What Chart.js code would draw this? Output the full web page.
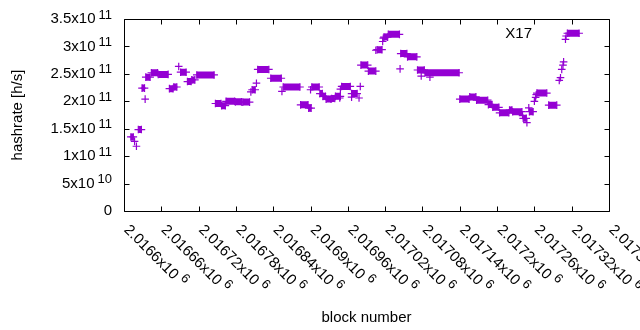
<!DOCTYPE html>
<html>
<head>
<meta charset="utf-8">
<title>X17 hashrate</title>
<script src="https://cdn.jsdelivr.net/npm/chart.js"></script>
<style>
    body { margin: 0; background: #fff; }
</style>
</head>
<body>
<canvas id="hashChart" width="640" height="330"></canvas>
<script>
// runs of consecutive blocks sharing one hashrate estimate: first block, last block, h/s
const runStart = [
    2016611, 2016617, 2016620, 2016623, 2016629, 2016634, 2016635, 2016644, 2016655, 2016673,
    2016680, 2016688, 2016691, 2016702, 2016709, 2016717, 2016747, 2016757, 2016764, 2016779,
    2016791, 2016804, 2016806, 2016813, 2016815, 2016836, 2016854, 2016856, 2016884, 2016897,
    2016900, 2016902, 2016915, 2016920, 2016925, 2016934, 2016940, 2016947, 2016948, 2016950,
    2016966, 2016966, 2016978, 2016980, 2016981, 2016993, 2017005, 2017007, 2017016, 2017017,
    2017018, 2017025, 2017044, 2017045, 2017056, 2017072, 2017078, 2017092, 2017084, 2017140,
    2017156, 2017167, 2017186, 2017193, 2017204, 2017220, 2017225, 2017241, 2017242, 2017248,
    2017251, 2017252, 2017260, 2017262, 2017263, 2017264, 2017283, 2017300, 2017302, 2017304,
    2017306, 2017307, 2017310, 2017311, 2017313
];
const runEnd = [
    2016615, 2016617, 2016620, 2016628, 2016633, 2016634, 2016642, 2016654, 2016671, 2016679,
    2016685, 2016688, 2016700, 2016708, 2016714, 2016745, 2016756, 2016763, 2016778, 2016789,
    2016802, 2016804, 2016811, 2016813, 2016833, 2016853, 2016854, 2016883, 2016896, 2016901,
    2016900, 2016914, 2016919, 2016924, 2016933, 2016939, 2016948, 2016947, 2016948, 2016964,
    2016975, 2016966, 2016978, 2016980, 2016992, 2017005, 2017005, 2017015, 2017016, 2017017,
    2017024, 2017043, 2017044, 2017055, 2017071, 2017083, 2017078, 2017092, 2017139, 2017155,
    2017166, 2017185, 2017192, 2017203, 2017219, 2017224, 2017240, 2017241, 2017247, 2017248,
    2017251, 2017258, 2017260, 2017262, 2017263, 2017280, 2017296, 2017300, 2017302, 2017304,
    2017306, 2017307, 2017310, 2017311, 2017332
];
const runValue = [
    1.35e11, 1.27e11, 1.18e11, 1.485e11, 2.24e11, 2.04e11, 2.44e11, 2.52e11, 2.49e11, 2.23e11,
    2.26e11, 2.635e11, 2.53e11, 2.36e11, 2.39e11, 2.48e11, 1.96e11, 1.92e11, 2.00e11, 1.99e11,
    1.985e11, 2.17e11, 2.21e11, 2.33e11, 2.58e11, 2.42e11, 2.18e11, 2.26e11, 1.935e11, 1.875e11,
    2.21e11, 2.26e11, 2.14e11, 2.09e11, 2.04e11, 2.05e11, 2.09e11, 2.06e11, 2.22e11, 2.27e11,
    2.14e11, 2.075e11, 2.06e11, 2.27e11, 2.66e11, 2.55e11, 2.93e11, 2.94e11, 3.09e11, 3.15e11,
    3.17e11, 3.22e11, 2.59e11, 2.87e11, 2.81e11, 2.57e11, 2.46e11, 2.44e11, 2.52e11, 2.04e11,
    2.08e11, 2.02e11, 1.94e11, 1.89e11, 1.79e11, 1.84e11, 1.81e11, 1.74e11, 1.69e11, 1.61e11,
    1.88e11, 1.81e11, 2.00e11, 2.07e11, 2.12e11, 2.15e11, 1.93e11, 2.38e11, 2.43e11, 2.58e11,
    2.66e11, 2.72e11, 3.13e11, 3.19e11, 3.24e11
];

const xTicks = [2016600, 2016660, 2016720, 2016780, 2016840, 2016900, 2016960,
    2017020, 2017080, 2017140, 2017200, 2017260, 2017320, 2017380];
const xTickLabels = ["2.0166x10", "2.01666x10", "2.01672x10", "2.01678x10", "2.01684x10",
    "2.0169x10", "2.01696x10", "2.01702x10", "2.01708x10", "2.01714x10", "2.0172x10",
    "2.01726x10", "2.01732x10", "2.01738x10"];
const xTickPower = "6";

const yTicks = [0, 5e10, 1e11, 1.5e11, 2e11, 2.5e11, 3e11, 3.5e11];
const yTickLabels = ["0", "5x10", "1x10", "1.5x10", "2x10", "2.5x10", "3x10", "3.5x10"];
const yTickPowers = ["", "10", "11", "11", "11", "11", "11", "11"];

const purple = "#9400d3";
const mainFont = '15px "Liberation Sans", Arial, sans-serif';
const supFont = '13px "Liberation Sans", Arial, sans-serif';

// each run becomes a short thick segment, with a gap before the next one
const points = [];
for (let i = 0; i < runStart.length; i++) {
    points.push({ x: runStart[i], y: runValue[i] });
    if (runEnd[i] !== runStart[i]) {
        points.push({ x: runEnd[i], y: runValue[i] });
    }
    points.push({ x: runEnd[i], y: null });
}

// gnuplot-like frame, mirrored inward ticks and superscript tick labels
const gnuplotFrame = {
    id: "gnuplotFrame",
    afterDraw(chart) {
        const ctx = chart.ctx;
        const a = chart.chartArea;
        const xs = chart.scales.x;
        const ys = chart.scales.y;
        const L = Math.round(a.left) + 0.5;
        const R = Math.round(a.right) + 0.5;
        const T = Math.round(a.top) + 0.5;
        const B = Math.round(a.bottom) + 0.5;

        ctx.save();
        ctx.strokeStyle = "#000";
        ctx.lineWidth = 1;
        ctx.beginPath();
        ctx.rect(L, T, R - L, B - T);
        xTicks.forEach(function (v) {
            const p = Math.round(xs.getPixelForValue(v)) + 0.5;
            ctx.moveTo(p, B); ctx.lineTo(p, B - 5);
            ctx.moveTo(p, T); ctx.lineTo(p, T + 5);
        });
        yTicks.forEach(function (v) {
            const p = Math.round(ys.getPixelForValue(v)) + 0.5;
            ctx.moveTo(L, p); ctx.lineTo(L + 5, p);
            ctx.moveTo(R, p); ctx.lineTo(R - 5, p);
        });
        ctx.stroke();

        ctx.fillStyle = "#000";

        // y tick labels
        ctx.textAlign = "right";
        ctx.textBaseline = "middle";
        yTicks.forEach(function (v, i) {
            const p = ys.getPixelForValue(v);
            let right = 112;
            if (yTickPowers[i]) {
                ctx.font = supFont;
                ctx.fillText(yTickPowers[i], right, p - 4);
                right -= ctx.measureText(yTickPowers[i]).width + 3;
            }
            ctx.font = mainFont;
            ctx.fillText(yTickLabels[i], right, p);
        });

        // x tick labels, turned 45 degrees clockwise
        ctx.textAlign = "left";
        ctx.textBaseline = "alphabetic";
        xTicks.forEach(function (v, i) {
            const p = xs.getPixelForValue(v);
            ctx.save();
            ctx.translate(p - 0.7, 230.5);
            ctx.rotate(Math.PI / 4);
            ctx.font = mainFont;
            ctx.fillText(xTickLabels[i], 0, 0);
            const w = ctx.measureText(xTickLabels[i]).width;
            ctx.font = supFont;
            ctx.fillText(xTickPower, w + 4, -6);
            ctx.restore();
        });

        // axis titles and key
        ctx.font = mainFont;
        ctx.textAlign = "center";
        ctx.fillText("block number", (a.left + a.right) / 2, 322);

        ctx.save();
        ctx.translate(18, (a.top + a.bottom) / 2);
        ctx.rotate(-Math.PI / 2);
        ctx.textBaseline = "middle";
        ctx.fillText("hashrate [h/s]", 0, 0);
        ctx.restore();

        ctx.textAlign = "right";
        ctx.fillText("X17", 532, 37.5);
        ctx.restore();
    }
};

new Chart(document.getElementById("hashChart"), {
    type: "line",
    data: {
        datasets: [
            {
                label: "X17",
                data: points,
                borderColor: purple,
                borderWidth: 7,
                borderCapStyle: "butt",
                pointStyle: "cross",
                pointRadius: 3.8,
                pointBorderWidth: 1.2,
                pointBorderColor: purple,
                pointBackgroundColor: purple,
                spanGaps: false,
                tension: 0
            }
        ]
    },
    options: {
        responsive: false,
        animation: false,
        events: [],
        layout: {
            padding: { left: 124, right: 31, top: 19, bottom: 119 }
        },
        scales: {
            x: { type: "linear", min: 2016600, max: 2017380, display: false },
            y: { type: "linear", min: 0, max: 3.5e11, display: false }
        },
        plugins: {
            legend: { display: false },
            tooltip: { enabled: false }
        }
    },
    plugins: [gnuplotFrame]
});
</script>
</body>
</html>
